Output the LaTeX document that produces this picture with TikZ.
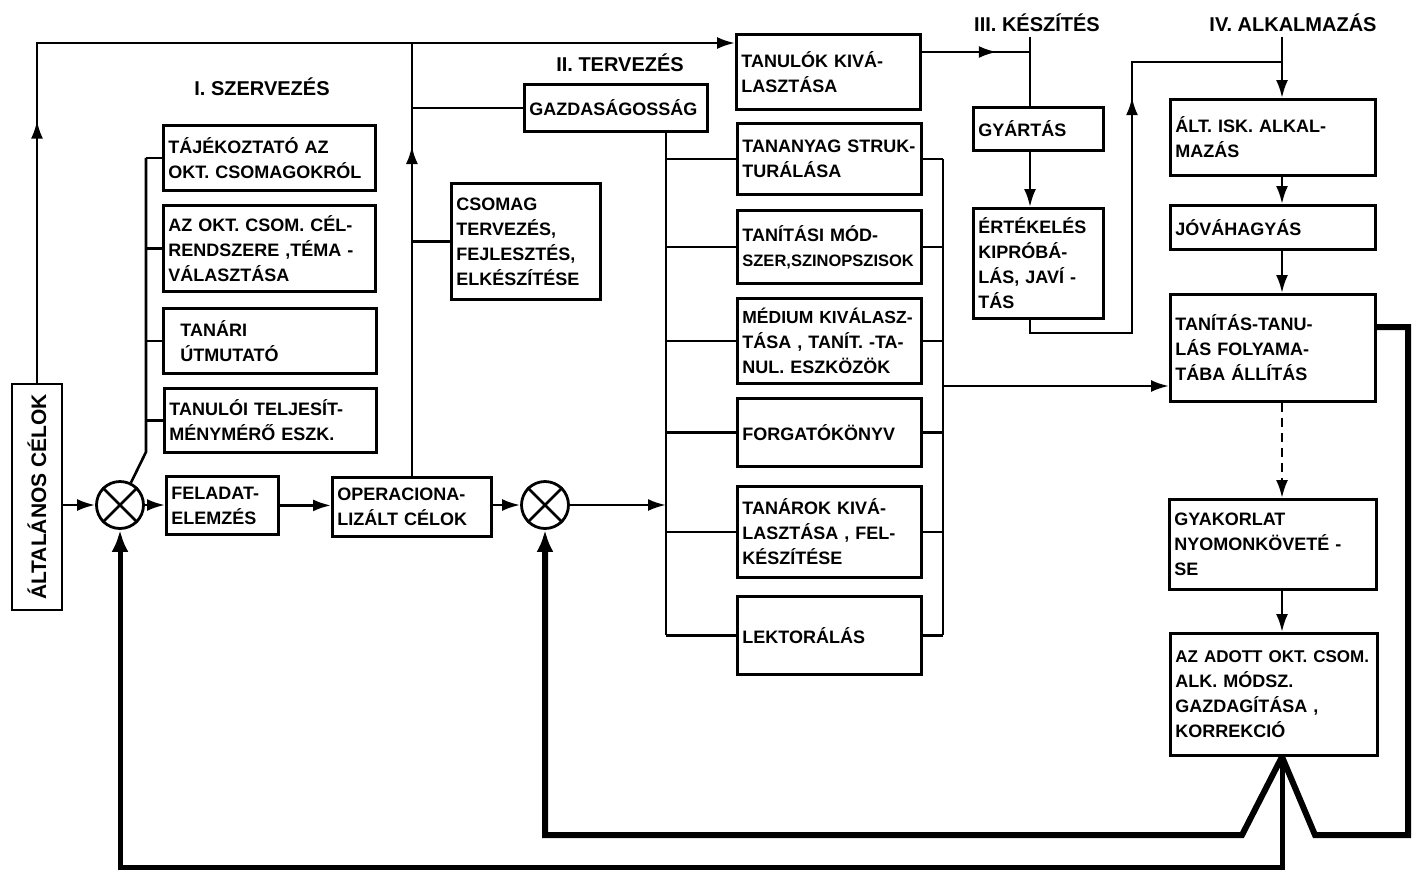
\documentclass[tikz,border=0pt]{standalone}
\usepackage{fontspec}
\setmainfont{Liberation Sans}
\usetikzlibrary{arrows.meta}
\usetikzlibrary{decorations.markings}
\tikzset{every picture/.style={line width=2.6pt},
blok/.style={draw,line width=2.8pt,anchor=north west,align=left,inner xsep=5pt,inner ysep=3pt,font=\fontsize{18}{25}\selectfont\bfseries},
titel/.style={font=\fontsize{20}{22}\selectfont\bfseries},
kreuz/.style={circle,draw,line width=2.8pt,minimum size=47pt,inner sep=0pt},
pfeil/.style={-{Latex[length=18pt,width=12pt]}},
vastag/.style={line width=6pt},
vpfeil/.style={-{Latex[length=22pt,width=17pt]}},
mitte/.style={postaction={decorate},decoration={markings,mark=at position #1 with {\arrow{Latex[length=18pt,width=12pt]}}}}}

\begin{document}
\begin{tikzpicture}[x=1pt,y=-1pt]
\useasboundingbox (0,0) rectangle (1418,873);
\node (tit1) at (262,87) [titel] {I. SZERVEZÉS};
\node (tit2) at (620,63) [titel] {II. TERVEZÉS};
\node (tit3) at (1037,23) [titel] {III. KÉSZÍTÉS};
\node (tit4) at (1293,23) [titel] {IV. ALKALMAZÁS};
\node (altalanos) at (37,497) [blok,anchor=center,rotate=90,minimum width=226pt,minimum height=50pt,font=\fontsize{21}{22}\selectfont\bfseries] {ÁLTALÁNOS CÉLOK};
\node (tajek) at (162,124) [blok,text width=202pt,minimum height=65pt] {TÁJÉKOZTATÓ AZ\\ OKT. CSOMAGOKRÓL};
\node (celrend) at (162,204) [blok,text width=202pt,minimum height=86pt] {AZ OKT. CSOM. CÉL-\\RENDSZERE ,TÉMA -\\VÁLASZTÁSA};
\node (utmutato) at (162,307) [blok,text width=203pt,minimum height=65pt] {\hspace{12pt}TANÁRI\\\hspace{12pt}ÚTMUTATÓ};
\node (teljesit) at (163,387) [blok,text width=202pt,minimum height=64pt] {TANULÓI TELJESÍT-\\MÉNYMÉRŐ ESZK.};
\node (feladat) at (165,475) [blok,text width=102pt,minimum height=58pt] {FELADAT-\\ELEMZÉS};
\node (operac) at (331,476) [blok,text width=149pt,minimum height=59pt] {OPERACIONA-\\LIZÁLT CÉLOK};
\node (k1) at (120,505) [kreuz] {};
\node (k2) at (545,505) [kreuz] {};
\foreach \k in {k1,k2} {
\draw[line width=2.8pt] (\k.north west) -- (\k.south east);
\draw[line width=2.8pt] (\k.north east) -- (\k.south west);
}
\node (gazd) at (523,83) [blok,text width=173pt,minimum height=47pt] {GAZDASÁGOSSÁG};
\node (csomag) at (450,182) [blok,text width=139pt,minimum height=116pt] {CSOMAG\\TERVEZÉS,\\FEJLESZTÉS,\\ELKÉSZÍTÉSE};
\node (tanulok) at (735,33) [blok,text width=174pt,minimum height=75pt] {TANULÓK KIVÁ-\\LASZTÁSA};
\node (tananyag) at (736,122) [blok,text width=174pt,minimum height=71pt] {TANANYAG STRUK-\\TURÁLÁSA};
\node (modszer) at (736,209) [blok,text width=174pt,minimum height=73pt] {TANÍTÁSI MÓD-\\{\fontsize{16.5}{25}\selectfont SZER,SZINOPSZISOK}};
\node (medium) at (736,297) [blok,text width=174pt,minimum height=85pt] {\mbox{\fontsize{17.5}{25}\selectfont MÉDIUM KIVÁLASZ-}\\TÁSA , TANÍT. -TA-\\NUL. ESZKÖZÖK};
\node (forgato) at (736,397) [blok,text width=174pt,minimum height=68pt] {FORGATÓKÖNYV};
\node (tanarok) at (736,485) [blok,text width=174pt,minimum height=91pt] {TANÁROK KIVÁ-\\LASZTÁSA , FEL-\\KÉSZÍTÉSE};
\node (lektor) at (736,595) [blok,text width=174pt,minimum height=78pt] {LEKTORÁLÁS};
\node (gyartas) at (972,106) [blok,text width=120pt,minimum height=43pt] {GYÁRTÁS};
\node (ertek) at (972,207) [blok,text width=120pt,minimum height=110pt] {ÉRTÉKELÉS\\KIPRÓBÁ-\\LÁS, JAVÍ -\\TÁS};
\node (alt) at (1169,98) [blok,text width=195pt,minimum height=76pt] {ÁLT. ISK. ALKAL-\\MAZÁS};
\node (jova) at (1169,204) [blok,text width=195pt,minimum height=44pt] {JÓVÁHAGYÁS};
\node (tanit) at (1169,293) [blok,text width=195pt,minimum height=107pt] {TANÍTÁS-TANU-\\LÁS FOLYAMA-\\TÁBA ÁLLÍTÁS};
\node (gyak) at (1168,498) [blok,text width=197pt,minimum height=90pt] {GYAKORLAT\\NYOMONKÖVETÉ -\\SE};
\node (adott) at (1169,632) [blok,text width=197pt,minimum height=122pt] {{\fontsize{17}{25}\selectfont AZ ADOTT OKT. CSOM.}\\ALK. MÓDSZ.\\GAZDAGÍTÁSA ,\\KORREKCIÓ};
\coordinate (fent) at (37,43);
\coordinate (knick) at (146,452);
\coordinate (sinL) at (666,0);
\coordinate (sinR) at (943,0);
\coordinate (ki) at (943,386);
\coordinate (t3) at (1030,52);
\coordinate (achse3) at (1030,0);
\coordinate (achse) at (1282,0);
\coordinate (r1) at (1132,333);
\coordinate (r2) at (1132,62);
\draw[pfeil,mitte=262pt] (altalanos.east) -- (fent) -- (fent -| tanulok.west);
\draw[pfeil] (altalanos.south |- k1) -- (k1);
\draw[pfeil] (k1) -- (k1 -| feladat.west);
\draw[pfeil] (feladat.east) -- (feladat.east -| operac.west);
\draw[pfeil] (operac.east |- k2) -- (k2);
\draw[pfeil] (k2) -- (k2 -| sinL);
\draw (k1) -- (knick) -- (knick |- tajek.west);
\foreach \b in {tajek,celrend,utmutato,teljesit} \draw (knick |- \b.west) -- (\b.west);
\draw[mitte=330pt] (operac.north) -- (operac.north |- fent);
\draw (operac.north |- gazd.west) -- (gazd.west);
\draw (operac.north |- csomag.west) -- (csomag.west);
\draw (sinL |- gazd.south) -- (sinL |- lektor.west);
\draw (sinR |- tananyag.east) -- (sinR |- lektor.east);
\foreach \b in {tananyag,modszer,medium,forgato,tanarok,lektor} {
\draw (sinL |- \b.west) -- (\b.west);
\draw (\b.east) -- (sinR |- \b.east);
}
\draw[pfeil] (ki) -- (ki -| tanit.west);
\draw[mitte=75pt] (t3 -| tanulok.east) -- (t3);
\draw (achse3 |- tit3.south) -- (achse3 |- gyartas.north);
\draw[pfeil] (achse3 |- gyartas.south) -- (achse3 |- ertek.north);
\draw[mitte=351pt] (achse3 |- ertek.south) |- (r1) -- (r2) -- (r2 -| achse);
\draw[pfeil] (achse |- tit4.south) -- (achse |- alt.north);
\draw[pfeil] (achse |- alt.south) -- (achse |- jova.north);
\draw[pfeil] (achse |- jova.south) -- (achse |- tanit.north);
\draw[pfeil,dash pattern=on 9pt off 6pt] (achse |- tanit.south) -- (achse |- gyak.north);
\draw[pfeil] (achse |- gyak.south) -- (achse |- adott.north);
\coordinate (spitze) at (achse |- adott.south);
\coordinate (re) at (1408,327);
\coordinate (ru) at (1408,835);
\coordinate (d1) at (1315,835);
\coordinate (d2) at (1242,835);
\coordinate (d3) at (1282,867);
\draw[vastag] (re -| tanit.east) -- (re) -- (ru) -- (d1) -- (spitze);
\draw[vastag,vpfeil] (spitze) -- (d2) -- (d2 -| k2) -- (k2);
\draw[vastag,vpfeil,line width=5pt] (spitze) -- (d3) -- (d3 -| k1) -- (k1);
\end{tikzpicture}
\end{document}
